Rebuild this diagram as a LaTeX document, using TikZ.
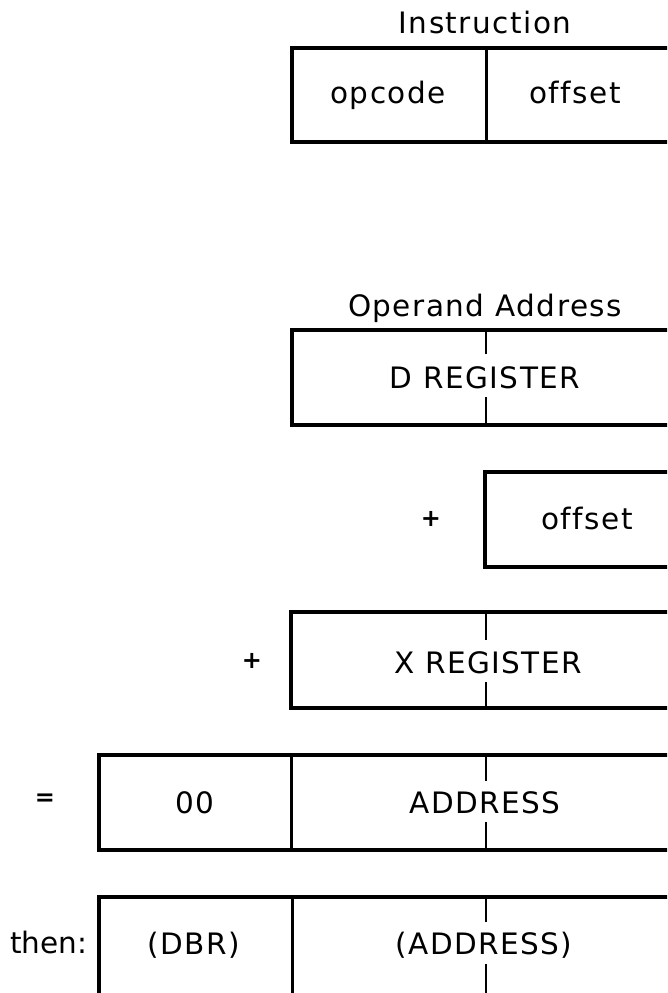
\documentclass[tikz,border=0pt]{standalone}
\usepackage{fontspec}
\setmainfont{DejaVu Sans}[LetterSpace=5, Ligatures={NoCommon}]
\begin{document}
\begin{tikzpicture}[x=1pt,y=-1pt,
  frame/.style={line width=3.5pt, line join=miter},
  divider/.style={line width=3pt},
  halftick/.style={line width=2.5pt},
  lbl/.style={font=\fontsize{29.5}{34}\selectfont, inner sep=0pt, anchor=base},
  opsign/.style={font=\fontsize{24}{28}\selectfont\bfseries, inner sep=0pt, anchor=center}]
\clip (0,0) rectangle (667,993);
\fill[white] (0,0) rectangle (667,993);

% Instruction
\node[lbl] (ttlinstr) at (485,33) {Instruction};
\draw[frame] (700,48) -- (292,48) -- (292,142) -- (700,142);
\draw[divider] (486,48) -- (486,142);
\node[lbl] (opc) at (388,103) {opcode};
\node[lbl] (off1) at (575,103) {offset};

% Operand Address
\node[lbl] (ttlopa) at (485,316) {Operand Address};
\draw[frame] (700,330) -- (292,330) -- (292,425) -- (700,425);
\draw[halftick] (486,330) -- (486,354);
\draw[halftick] (486,397) -- (486,425);
\node[lbl] (dreg) at (485,388) {D REGISTER};

% + offset
\node[opsign] (plus1) at (431,519) {+};
\draw[frame] (700,472) -- (485,472) -- (485,567) -- (700,567);
\node[lbl] (off2) at (587,529) {offset};

% + X REGISTER
\node[opsign] (plus2) at (252,661) {+};
\draw[frame] (700,612) -- (291,612) -- (291,708) -- (700,708);
\draw[halftick] (486,612) -- (486,640);
\draw[halftick] (486,682) -- (486,708);
\node[lbl] (xreg) at (488,673) {X REGISTER};

% = 00 ADDRESS
\node[opsign] (eqs) at (45,800) {=};
\draw[frame] (700,755) -- (99,755) -- (99,850) -- (700,850);
\draw[divider] (291,755) -- (291,850);
\draw[halftick] (486,755) -- (486,781);
\draw[halftick] (486,822) -- (486,850);
\node[lbl] (zz) at (195,813) {00};
\node[lbl] (addr) at (485,813) {ADDRESS};

% then: (DBR) (ADDRESS)
\node[lbl, anchor=base west, font=\fontsize{29.5}{34}\selectfont\addfontfeature{LetterSpace=0}] (thn) at (10,953) {then:};
\draw[frame] (99,1010) -- (99,897) -- (700,897);
\draw[divider] (292,897) -- (292,1010);
\draw[halftick] (486,897) -- (486,922);
\draw[halftick] (486,964) -- (486,1010);
\node[lbl] (dbr) at (194,954) {(DBR)};
\node[lbl] (paddr) at (484,954) {(ADDRESS)};
\end{tikzpicture}
\end{document}
